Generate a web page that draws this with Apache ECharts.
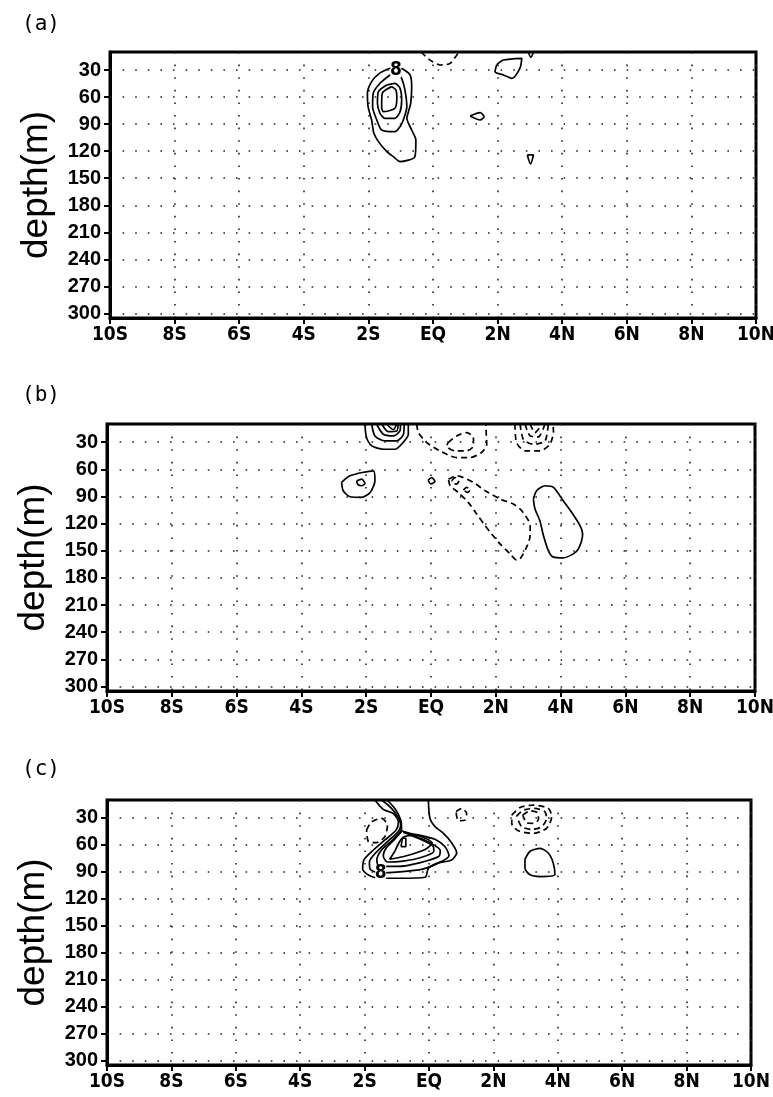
<!DOCTYPE html>
<html>
<head>
<meta charset="utf-8">
<script src="https://cdn.jsdelivr.net/npm/echarts@6/dist/echarts.min.js"></script>
<style>
  html, body { margin: 0; padding: 0; background: #fff; }
  #chart { width: 773px; height: 1097px; }
</style>
</head>
<body>
<div id="chart"></div>
<script>
// Axis definitions: latitude (degrees, S negative) and depth (m)
const latTicks = [-10, -8, -6, -4, -2, 0, 2, 4, 6, 8, 10];
const latLabels = ['10S', '8S', '6S', '4S', '2S', 'EQ', '2N', '4N', '6N', '8N', '10N'];
const depthTicks = [30, 60, 90, 120, 150, 180, 210, 240, 270, 300];
const depthRange = [10, 305];
const panelTitles = ['(a)', '(b)', '(c)'];

// Contour lines as [lat, depth] pairs. "Rings" are closed, "lines" end on the surface.
// Panel (a)
const aSolidRings = [
  [[-1.33,28.1],[-1.66,33.7],[-1.90,42.9],[-2.03,55.8],[-2.01,70.6],[-1.90,85.4],[-1.83,100.2],[-1.69,109.4],[-1.43,120.5],[-1.23,126.1],[-1.02,131.6],[-0.56,126.1],[-0.53,107.6],[-0.66,96.5],[-0.81,83.6],[-0.76,76.2],[-0.69,66.9],[-0.66,48.4],[-0.71,35.5],[-0.92,29.2],[-1.02,28.1]],
  [[-1.33,35.5],[-1.64,44.7],[-1.85,55.8],[-1.87,70.6],[-1.74,85.4],[-1.59,96.5],[-1.18,98.4],[-1.02,92.8],[-0.92,85.4],[-0.81,70.6],[-0.87,52.1],[-0.97,39.2],[-1.07,35.5]],
  [[-1.43,46.6],[-1.69,54.0],[-1.72,66.9],[-1.64,78.0],[-1.49,83.6],[-1.18,83.6],[-1.02,76.2],[-0.97,63.2],[-1.02,50.3],[-1.18,44.7]],
  [[-1.28,48.4],[-1.57,55.8],[-1.59,70.6],[-1.54,76.2],[-1.18,72.5],[-1.12,61.4],[-1.15,52.1]],
  [[1.97,24.4],[2.18,18.9],[2.75,17.0],[2.69,28.1],[2.44,39.2],[2.18,35.5],[1.92,31.8]],
  [[1.15,81.0],[1.46,77.3],[1.58,81.7],[1.46,85.4]],
  [[2.92,124.2],[3.11,124.2],[3.02,134.2]]
];
const aSolidLines = [
  [[2.95,10],[3.03,16.0],[3.11,10]]
];
const aDashedLines = [
  [[-0.37,10],[-0.09,19.0],[0.22,24.4],[0.53,22.6],[0.80,10]]
];
const aLabels = [[-1.15, 30, '8']];

// Panel (b)
const bSolidRings = [
  [[-2.76,74.6],[-2.50,67.2],[-1.78,61.7],[-1.73,72.7],[-1.88,85.6],[-2.14,91.1],[-2.50,90.4],[-2.71,83.7]],
  [[-2.29,72.7],[-2.14,70.9],[-2.04,75.7],[-2.14,78.2],[-2.27,76.4]],
  [[-0.09,72.2],[0.02,69.2],[0.12,73.5],[0.00,76.2]],
  [[3.16,92.9],[3.26,83.7],[3.52,78.2],[3.78,80.1],[4.08,94.8],[4.34,107.6],[4.60,122.3],[4.68,131.4],[4.55,148.0],[4.39,153.5],[4.08,157.9],[3.78,157.1],[3.62,149.8],[3.47,133.3],[3.36,116.8],[3.21,103.9]]
];
const bSolidLines = [
  [[-2.04,10],[-1.99,25.0],[-1.83,34.2],[-1.47,37.9],[-1.11,37.9],[-0.91,32.4],[-0.70,21.4],[-0.70,10]],
  [[-1.83,10],[-1.73,23.2],[-1.42,28.7],[-1.06,28.7],[-0.85,21.4],[-0.83,10]],
  [[-1.68,10],[-1.47,21.4],[-1.16,23.2],[-0.96,17.7],[-0.94,10]],
  [[-1.52,10],[-1.32,18.4],[-1.06,17.7],[-1.01,10]],
  [[-1.37,10],[-1.16,16.2],[-1.06,10]]
];
const bDashedRings = [
  [[0.53,30.5],[0.79,23.2],[1.10,19.5],[1.31,25.0],[1.31,34.2],[1.10,39.7],[0.74,39.7],[0.48,34.2]],
  [[0.64,72.7],[0.74,69.1],[0.86,72.7],[0.79,76.4],[0.67,75.7]],
  [[1.00,83.0],[1.10,80.1],[1.22,82.3],[1.13,85.6]],
  [[0.54,70.9],[0.79,67.2],[1.31,74.6],[1.67,83.7],[2.13,92.9],[2.54,98.4],[2.80,105.8],[3.06,122.3],[3.06,133.3],[2.95,146.1],[2.75,159.0],[2.64,160.1],[2.44,153.5],[2.13,142.5],[1.87,131.4],[1.67,122.3],[1.41,109.4],[1.15,96.6],[0.84,85.6],[0.59,78.2]]
];
const bDashedLines = [
  [[-0.44,10],[-0.39,19.5],[-0.13,30.5],[0.28,39.7],[0.79,47.1],[1.20,47.1],[1.56,41.5],[1.72,32.4],[1.70,15.9],[1.70,10]],
  [[2.59,10],[2.64,30.5],[2.90,39.7],[3.36,39.7],[3.67,32.4],[3.78,17.7],[3.76,10]],
  [[2.75,10],[2.85,26.9],[3.16,32.4],[3.52,28.7],[3.62,10]],
  [[2.90,10],[3.06,23.2],[3.31,24.3],[3.52,10]],
  [[3.06,10],[3.21,19.5],[3.42,10]]
];
const bLabels = [];

// Panel (c)
const cSolidRings = [
  [[-1.06,67.0],[-0.82,52.0],[-0.44,49.0],[0.10,58.0],[-0.12,65.0],[-0.70,72.0],[-1.22,76.0]],
  [[-0.87,62.0],[-0.80,52.5],[-0.72,53.0],[-0.72,62.0]],
  [[2.98,76.0],[3.14,67.0],[3.45,63.8],[3.71,69.3],[3.86,80.4],[3.91,93.3],[3.45,95.2],[3.14,93.3],[2.98,86.0]]
];
const cSolidLines = [
  [[-1.68,10],[-1.42,20.5],[-1.11,25.0],[-0.95,34.2],[-1.02,43.5],[-1.37,54.5],[-1.78,67.5],[-2.02,76.7],[-2.06,87.1],[-1.88,93.4],[-1.52,97.1],[-0.90,97.1],[-0.12,96.0],[-0.02,86.0],[0.24,80.4],[0.70,76.7],[0.86,68.6],[0.70,57.5],[0.45,47.1],[0.19,39.8],[0.03,30.5],[-0.02,10]],
  [[-1.47,10],[-1.20,18.0],[-0.98,28.0],[-0.88,38.0],[-0.95,45.0],[-1.28,56.0],[-1.66,69.0],[-1.85,79.0],[-1.83,87.0],[-1.56,91.0],[-0.90,90.0],[-0.20,87.0],[0.30,80.0],[0.62,72.0],[0.50,62.0],[0.20,54.0],[-0.20,50.0],[-0.60,47.0],[-0.88,44.0]],
  [[-1.30,10],[-1.05,20.0],[-0.88,32.0],[-0.85,42.0],[-1.12,54.0],[-1.48,66.0],[-1.62,77.0],[-1.55,84.0],[-0.95,84.0],[-0.30,80.0],[0.30,73.0],[0.35,66.0],[0.00,57.0],[-0.45,50.0],[-0.80,46.0]],
  [[-0.85,45.0],[-1.05,53.0],[-1.32,63.0],[-1.42,72.0],[-1.30,79.0],[-0.80,78.0],[-0.25,74.0],[0.15,67.0],[0.12,61.0],[-0.25,54.0],[-0.60,49.0]]
];
const cDashedRings = [
  [[-1.94,43.5],[-1.78,34.2],[-1.47,30.5],[-1.29,37.9],[-1.37,50.8],[-1.63,57.5],[-1.88,56.3]],
  [[0.84,23.0],[1.02,19.4],[1.17,25.0],[1.12,32.4],[0.91,33.1]],
  [[2.57,26.8],[2.83,18.3],[3.24,15.7],[3.71,19.4],[3.81,28.7],[3.65,41.6],[3.24,47.1],[2.77,44.2],[2.57,36.1]],
  [[2.72,27.9],[2.93,21.3],[3.29,19.4],[3.60,23.1],[3.65,30.5],[3.50,39.8],[3.19,42.7],[2.88,39.8]],
  [[2.91,26.8],[3.14,22.0],[3.37,24.2],[3.40,31.6],[3.24,36.1],[3.03,35.4]]
];
const cDashedLines = [];
const cLabels = [[-1.50, 90.8, '8']];

const panels = [
  { solidRings: aSolidRings, solidLines: aSolidLines, dashedRings: [], dashedLines: aDashedLines, labels: aLabels },
  { solidRings: bSolidRings, solidLines: bSolidLines, dashedRings: bDashedRings, dashedLines: bDashedLines, labels: bLabels },
  { solidRings: cSolidRings, solidLines: cSolidLines, dashedRings: cDashedRings, dashedLines: cDashedLines, labels: cLabels }
];

// Plot frames (px) for the three stacked panels
const frames = [
  { left: 110, top: 52, width: 646, height: 266, titleTop: 9 },
  { left: 107, top: 424, width: 648, height: 267, titleTop: 380 },
  { left: 107, top: 800, width: 644, height: 265, titleTop: 754 }
];

const closeRing = r => r.concat([r[0]]);
const dotted = { color: '#222', width: 1.6, type: [1.6, 11] };
const condensed = '"DejaVu Sans Condensed", "Liberation Sans Narrow", "Liberation Sans", sans-serif';

const grids = [], xAxes = [], yAxes = [], series = [], titles = [];

frames.forEach((f, i) => {
  grids.push({
    left: f.left, top: f.top, width: f.width, height: f.height,
    outerBoundsMode: 'none', containLabel: false,
    show: true, borderColor: '#000', borderWidth: 3, backgroundColor: 'transparent'
  });
  xAxes.push({
    gridIndex: i, type: 'value', min: -10, max: 10, interval: 2,
    axisLine: { onZero: false, lineStyle: { color: '#000', width: 3 } },
    axisTick: { length: 6, lineStyle: { color: '#000', width: 2 } },
    axisLabel: {
      color: '#000', fontSize: 19, fontWeight: 'bold', margin: 8, fontFamily: condensed,
      hideOverlap: false, showMinLabel: true, showMaxLabel: true,
      formatter: v => latLabels[latTicks.indexOf(v)]
    },
    splitLine: { show: true, lineStyle: dotted }
  });
  yAxes.push({
    gridIndex: i, type: 'value', inverse: true, min: depthRange[0], max: depthRange[1],
    name: 'depth(m)', nameLocation: 'middle', nameRotate: 90, nameGap: 55,
    nameTextStyle: { color: '#000', fontSize: 37, fontFamily: '"Liberation Sans", Arial, sans-serif' },
    axisLine: { onZero: false, lineStyle: { color: '#000', width: 3 } },
    axisTick: { length: 6, customValues: depthTicks, lineStyle: { color: '#000', width: 2 } },
    axisLabel: {
      customValues: depthTicks, color: '#000', fontSize: 20, fontWeight: 'bold', margin: 9,
      fontFamily: '"Liberation Sans", Arial, sans-serif'
    },
    splitLine: { show: false }
  });
  titles.push({
    text: panelTitles[i], left: 17, top: f.titleTop,
    textStyle: { color: '#000', fontSize: 21, fontWeight: 'normal', fontFamily: '"DejaVu Sans Mono", monospace' }
  });

  // horizontal dotted grid at each labelled depth
  series.push({
    type: 'line', xAxisIndex: i, yAxisIndex: i, data: [], silent: true,
    markLine: {
      silent: true, symbol: 'none', label: { show: false },
      lineStyle: dotted, animation: false,
      data: depthTicks.map(d => ({ yAxis: d }))
    }
  });

  const p = panels[i];
  const add = (pts, dashed) => series.push({
    type: 'line', xAxisIndex: i, yAxisIndex: i, data: pts,
    showSymbol: false, smooth: 0.25, silent: true, animation: false,
    lineStyle: { color: '#000', width: 1.7, type: dashed ? [6, 4] : 'solid' }
  });
  p.solidRings.forEach(r => add(closeRing(r), false));
  p.solidLines.forEach(r => add(r, false));
  p.dashedRings.forEach(r => add(closeRing(r), true));
  p.dashedLines.forEach(r => add(r, true));

  // contour value labels, each on a small white patch that breaks the line
  if (p.labels.length) {
    series.push({
      type: 'scatter', xAxisIndex: i, yAxisIndex: i, z: 5, silent: true, animation: false,
      symbol: 'rect', symbolSize: [11, 15],
      itemStyle: { color: '#fff', opacity: 1 },
      data: p.labels,
      label: {
        show: true, position: 'inside', formatter: o => o.value[2],
        color: '#000', fontSize: 19, fontWeight: 'bold',
        fontFamily: condensed
      }
    });
  }
});

const chart = echarts.init(document.getElementById('chart'), null, { renderer: 'canvas' });
chart.setOption({
  animation: false,
  backgroundColor: '#fff',
  title: titles,
  grid: grids,
  xAxis: xAxes,
  yAxis: yAxes,
  series: series
});
</script>
</body>
</html>
